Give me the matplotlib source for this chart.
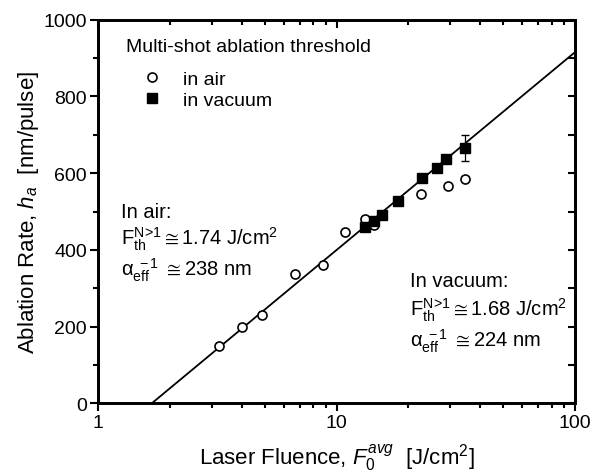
#Code to recreate the ablation rate vs laser fluence plot

import matplotlib
matplotlib.use("Agg")
import matplotlib.pyplot as plt
from matplotlib.lines import Line2D
import numpy as np

plt.rcParams['font.family'] = ['Liberation Sans', 'DejaVu Sans']
plt.rcParams['mathtext.fontset'] = 'custom'
plt.rcParams['mathtext.rm'] = 'Liberation Sans'
plt.rcParams['mathtext.it'] = 'Liberation Sans:italic'
plt.rcParams['mathtext.bf'] = 'Liberation Sans:bold'

#Data
air_fluence = [3.23, 4.00, 4.86, 6.70, 8.75, 10.9, 13.2, 14.3, 22.7, 29.3, 34.6]
air_rate = [150, 198, 230, 337, 361, 447, 480, 465, 546, 566, 585]
air_err = [8, 8, 7, 7, 7, 8, 8, 10, 6, 7, 8]

vac_fluence = [13.2, 14.3, 15.5, 18.1, 22.9, 26.3, 28.8, 34.6]
vac_rate = [459, 476, 491, 527, 587, 613, 637, 665]
vac_err = [6, 8, 6, 6, 6, 6, 6, 34]

#Fit: h = alpha^-1 * ln(F / Fth), vacuum values
fit_alpha_inv = 224
fit_fth = 1.68

fig = plt.figure(figsize=(5.98, 4.77), dpi=100)
ax = fig.add_axes([0.164, 0.1524, 0.7975, 0.8042])

# fit line
f = np.logspace(np.log10(fit_fth), 2, 200)
ax.plot(f, fit_alpha_inv * np.log(f / fit_fth), color='black', lw=1.3, zorder=2)

# data
ax.errorbar(air_fluence, air_rate, yerr=air_err, fmt='o', mfc='white', mec='black',
            mew=1.2, ms=6.5, ecolor='black', elinewidth=0.9, capsize=2.5, zorder=3)
ax.errorbar(vac_fluence, vac_rate, yerr=vac_err, fmt='s', mfc='black', mec='black',
            ms=7, ecolor='black', elinewidth=0.9, capsize=3, zorder=4)

ax.set_xscale('log')
ax.set_xlim(1, 100)
ax.set_ylim(0, 1000)
ax.set_xticks([1, 10, 100])
ax.set_xticklabels(['1', '10', '100'])
ax.set_yticks([0, 200, 400, 600, 800, 1000])
ax.set_yticks(np.arange(100, 1000, 200), minor=True)
ax.xaxis.set_minor_formatter(plt.NullFormatter())
ax.tick_params(which='both', direction='out', labelsize=14, width=1.5, pad=2)
ax.tick_params(which='major', length=6)
ax.tick_params(which='minor', length=3.5)

# top and right axes with inward ticks
axt = ax.twiny()
axt.set_xscale('log')
axt.set_xlim(1, 100)
axt.tick_params(which='both', direction='in', labeltop=False, width=1.5)
axt.tick_params(which='major', length=6)
axt.tick_params(which='minor', length=3.5)
axr = ax.twinx()
axr.set_ylim(0, 1000)
axr.set_yticks([0, 200, 400, 600, 800, 1000])
axr.set_yticks(np.arange(100, 1000, 200), minor=True)
axr.tick_params(which='both', direction='in', labelright=False, width=1.5, length=5)

for a in (ax, axt, axr):
    for s in a.spines.values():
        s.set_linewidth(1.8)

ax.set_xlabel(r'Laser Fluence, $\mathit{F_0^{avg}}$  [J/cm$^2$]', fontsize=16, labelpad=7)
ax.set_ylabel(r'Ablation Rate, $\mathit{h_a}$  [nm/pulse]', fontsize=16, labelpad=2)

# legend
ax.text(0.059, 0.929, 'Multi-shot ablation threshold', transform=ax.transAxes,
        fontsize=14, va='center')
handles = [Line2D([], [], ls='none', marker='o', mfc='white', mec='black', mew=1.2, ms=6.5),
           Line2D([], [], ls='none', marker='s', mfc='black', mec='black', ms=7)]
ax.legend(handles, ['in air', 'in vacuum'], loc='center left', bbox_to_anchor=(0.093, 0.818),
          frameon=False, fontsize=14, handlelength=1.0, handletextpad=1.1,
          borderpad=0, borderaxespad=0, labelspacing=0.18)

fs = 14.5
ax.text(0.048, 0.50, 'In air:', transform=ax.transAxes, fontsize=fs, va='center')
ax.text(0.048, 0.43, r'F$_{\rm th}^{\rm N\!>\!1}$$\cong$1.74 J/cm$^2$', transform=ax.transAxes,
        fontsize=fs, va='center')
ax.text(0.048, 0.35, r'$\mathrm{α}_{\rm eff}^{\ -1}$ $\cong$238 nm', transform=ax.transAxes,
        fontsize=fs, va='center')

ax.text(0.654, 0.32, 'In vacuum:', transform=ax.transAxes, fontsize=fs, va='center')
ax.text(0.654, 0.245, r'F$_{\rm th}^{\rm N\!>\!1}$$\cong$1.68 J/cm$^2$', transform=ax.transAxes,
        fontsize=fs, va='center')
ax.text(0.654, 0.165, r'$\mathrm{α}_{\rm eff}^{\ -1}$ $\cong$224 nm', transform=ax.transAxes,
        fontsize=fs, va='center')

plt.savefig('out.png', dpi=100)
